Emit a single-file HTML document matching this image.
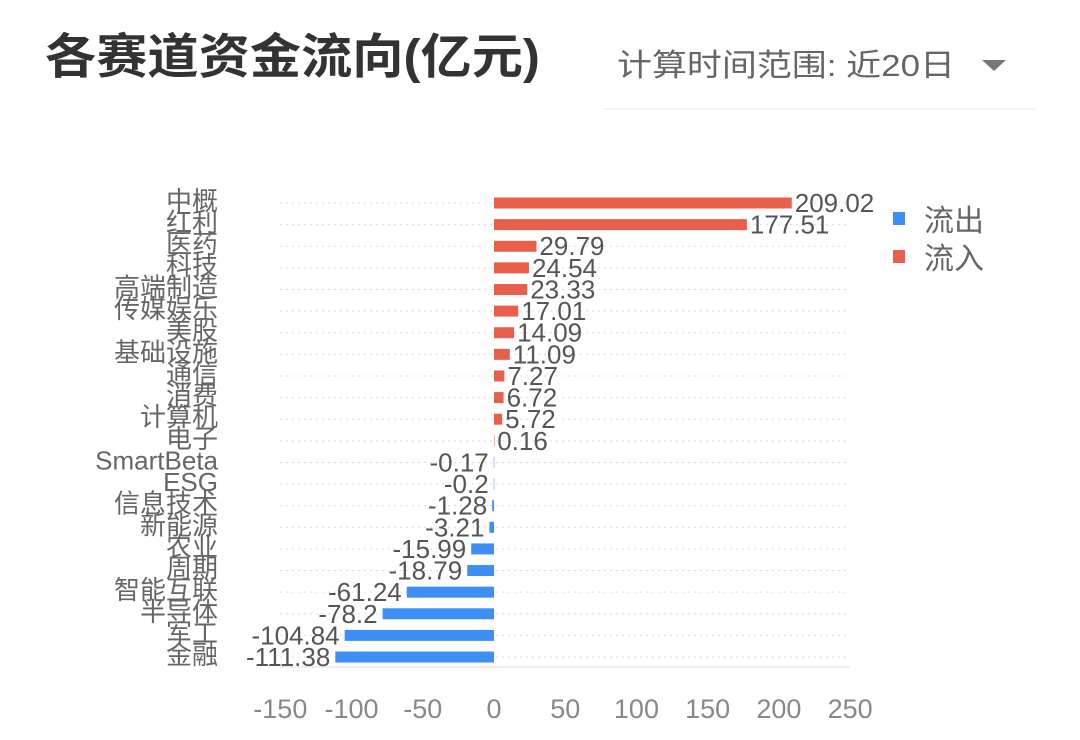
<!DOCTYPE html>
<html><head><meta charset="utf-8"><style>
body{margin:0;background:#fff;width:1080px;height:735px;overflow:hidden;font-family:"Liberation Sans","Noto Sans CJK SC",sans-serif}
</style></head><body>
<svg width="1080" height="735" xmlns="http://www.w3.org/2000/svg" font-family="Liberation Sans, Noto Sans CJK SC, sans-serif">
<text x="45" y="73" font-size="48" font-weight="bold" fill="#333" textLength="495" lengthAdjust="spacingAndGlyphs">各赛道资金流向(亿元)</text>
<g>
<text x="617" y="76" font-size="31" fill="#666" textLength="338" lengthAdjust="spacingAndGlyphs">计算时间范围: 近20日</text>
<polygon points="982,60 1006,60 994,71" fill="#777"/>
</g>
<line x1="603" y1="109" x2="1035" y2="109" stroke="#eee" stroke-width="1.5"/>
<g id="grid"></g><g id="bars"></g>
<line x1="280" y1="667" x2="850" y2="667" stroke="#ddd" stroke-width="1"/>
<g id="xt"></g>
<g>
<rect x="893" y="212" width="12" height="13" fill="#3d8ef5"/>
<text x="924" y="231" font-size="30" fill="#666">流出</text>
<rect x="893" y="250" width="12" height="13" fill="#e8604c"/>
<text x="924" y="269" font-size="30" fill="#666">流入</text>
</g>
</svg>
<script>
const categories=["中概","红利","医药","科技","高端制造","传媒娱乐","美股","基础设施","通信","消费","计算机","电子","SmartBeta","ESG","信息技术","新能源","农业","周期","智能互联","半导体","军工","金融"];
const values=[209.02,177.51,29.79,24.54,23.33,17.01,14.09,11.09,7.27,6.72,5.72,0.16,-0.17,-0.2,-1.28,-3.21,-15.99,-18.79,-61.24,-78.2,-104.84,-111.38];
const ticks=[-150,-100,-50,0,50,100,150,200,250];
const NS="http://www.w3.org/2000/svg";
const X=v=>494+v*1.4245;
const Y=i=>203+i*21.62;
function mk(t,a,p){const e=document.createElementNS(NS,t);for(const k in a)e.setAttribute(k,a[k]);p.appendChild(e);return e;}
const grid=document.getElementById('grid'),bars=document.getElementById('bars'),xt=document.getElementById('xt');
categories.forEach((c,i)=>{
 const y=Y(i),v=values[i];
 const g=mk('line',{x1:280,x2:850,y1:y,y2:y,stroke:'#ddd','stroke-dasharray':'2,4'},grid);
 
 
 const l=mk('text',{x:218,y:y+7,'font-size':26,fill:'#666','text-anchor':'end'},bars);
 l.textContent=c;
 
 
 const x0=Math.min(X(0),X(v)),w=Math.abs(X(v)-X(0));
 const r=mk('rect',{x:x0,y:y-5.5,width:Math.max(w,0.5),height:11,fill:v>=0?'#e8604c':'#3d8ef5'},bars);
 
 
 const t=mk('text',{x:v>=0?X(v)+3:x0-5,y:y+9,'font-size':26,fill:'#555','text-anchor':v>=0?'start':'end'},bars);
 t.textContent=String(v);
 
 
});
ticks.forEach(v=>{
 const t=mk('text',{x:X(v),y:718,'font-size':27,fill:'#888','text-anchor':'middle'},xt);
 t.textContent=String(v);
 
 
});
</script>
</body></html>
